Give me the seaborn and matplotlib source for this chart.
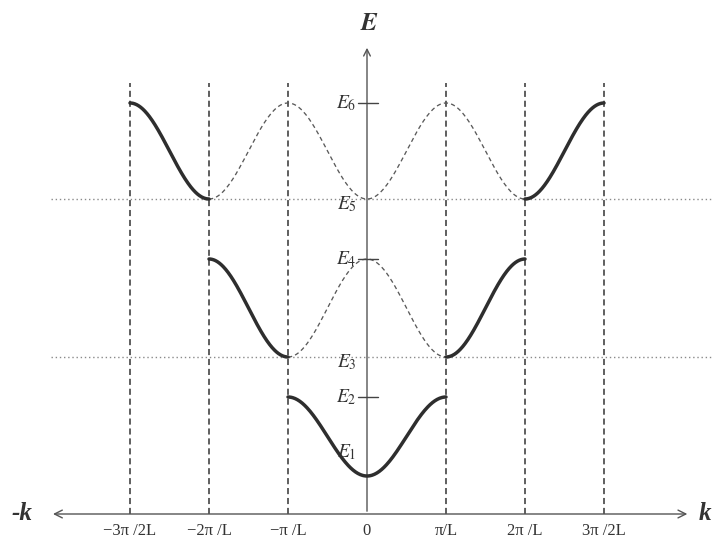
import numpy as np
import pandas as pd
import matplotlib
matplotlib.use("Agg")
import matplotlib.pyplot as plt
import seaborn as sns

sns.set_theme(style="white")
plt.rcParams["font.family"] = ["Liberation Serif", "DejaVu Serif"]
plt.rcParams["mathtext.fontset"] = "stix"

# Energy levels at the zone centre / zone boundaries
levels = {"E1": 0.38, "E2": 1.17, "E3": 1.57, "E4": 2.55, "E5": 3.15, "E6": 4.11}
# Zone boundaries, in units of pi/L
boundaries = [-3, -2, -1, 1, 2, 3]
tick_pos = [-3, -2, -1, 0, 1, 2, 3]
tick_labels = ["−3π /2L", "−2π /L", "−π /L", "0", "π/L", "2π /L", "3π /2L"]

# Bands: (low level, high level, phase, solid ranges, dashed ranges)
bands = [
    ("E1", "E2", -1, [(-1, 1)], []),
    ("E3", "E4", +1, [(-2, -1), (1, 2)], [(-1, 1)]),
    ("E5", "E6", -1, [(-3, -2), (2, 3)], [(-2, 2)]),
]


def band_energy(k, lo, hi, sign):
    # cosine-shaped dispersion between the two levels
    return levels[lo] + (levels[hi] - levels[lo]) * (1 + sign * np.cos(np.pi * k)) / 2


rows = []
seg = 0
for lo, hi, sign, solid, dashed in bands:
    for style, ranges in (("solid", solid), ("dashed", dashed)):
        for a, b in ranges:
            k = np.linspace(a, b, 200)
            for kk, ee in zip(k, band_energy(k, lo, hi, sign)):
                rows.append({"k": kk, "E": ee, "seg": seg, "style": style})
            seg += 1
df = pd.DataFrame(rows)

fig = plt.figure(figsize=(7.14, 5.43), dpi=100)
ax = fig.add_axes([0, 0, 1, 1])
ax.set_xlim(-367 / 79, (714 - 367) / 79)
ax.set_ylim(-0.29, 5.14)
ax.axis("off")

# reference levels (dotted)
for name in ("E3", "E5"):
    ax.plot([-4.0, 4.4], [levels[name]] * 2, ls=(0, (1, 2)), color="#8a8a8a", lw=1.0, zorder=1)

# zone boundaries
for b in boundaries:
    ax.plot([b, b], [0, 4.31], ls=(0, (4, 2.5)), color="#333333", lw=1.1, zorder=2)

for s, sub in df.groupby("seg"):
    style = sub["style"].iloc[0]
    if style == "solid":
        sns.lineplot(data=sub, x="k", y="E", ax=ax, color="#2e2e2e", lw=2.5,
                     estimator=None, sort=False, zorder=4)
    else:
        sns.lineplot(data=sub, x="k", y="E", ax=ax, color="#5a5a5a", lw=0.95,
                     estimator=None, sort=False, zorder=3, dashes=False,
                     linestyle=(0, (3.2, 2.4)))

# axes with arrows
ax.annotate("", xy=(0, 4.69), xytext=(0, 0),
            arrowprops=dict(arrowstyle="->", color="#555555", lw=1.0, mutation_scale=12))
ax.annotate("", xy=(-4.01, 0), xytext=(4.09, 0),
            arrowprops=dict(arrowstyle="<->", color="#555555", lw=1.0, mutation_scale=14))

# ticks on the energy axis
for name in ("E2", "E4", "E6"):
    ax.plot([-0.11, 0.14], [levels[name]] * 2, color="#444444", lw=1.0, zorder=5)

label_y = {"E1": 0.62, "E2": levels["E2"], "E3": levels["E3"] - 0.05,
           "E4": levels["E4"], "E5": levels["E5"] - 0.05, "E6": levels["E6"]}
for name, y in label_y.items():
    ax.text(-0.13, y, rf"$E_{{\mathit{{{name[1]}}}}}$", ha="right", va="center",
            fontsize=14, color="#333333")

ax.text(0.03, 4.9, r"$\boldsymbol{E}$", ha="center", va="center", fontsize=18, color="#333333")
ax.text(-4.37, 0.01, "-k", ha="center", va="center", fontsize=18, fontweight="bold",
        fontstyle="italic", color="#333333")
ax.text(4.28, 0.01, "k", ha="center", va="center", fontsize=18, fontweight="bold",
        fontstyle="italic", color="#333333")

for p, lab in zip(tick_pos, tick_labels):
    ax.text(p, -0.17, lab, ha="center", va="center", fontsize=12, color="#333333")

fig.savefig("out.png", dpi=100, facecolor="white")
